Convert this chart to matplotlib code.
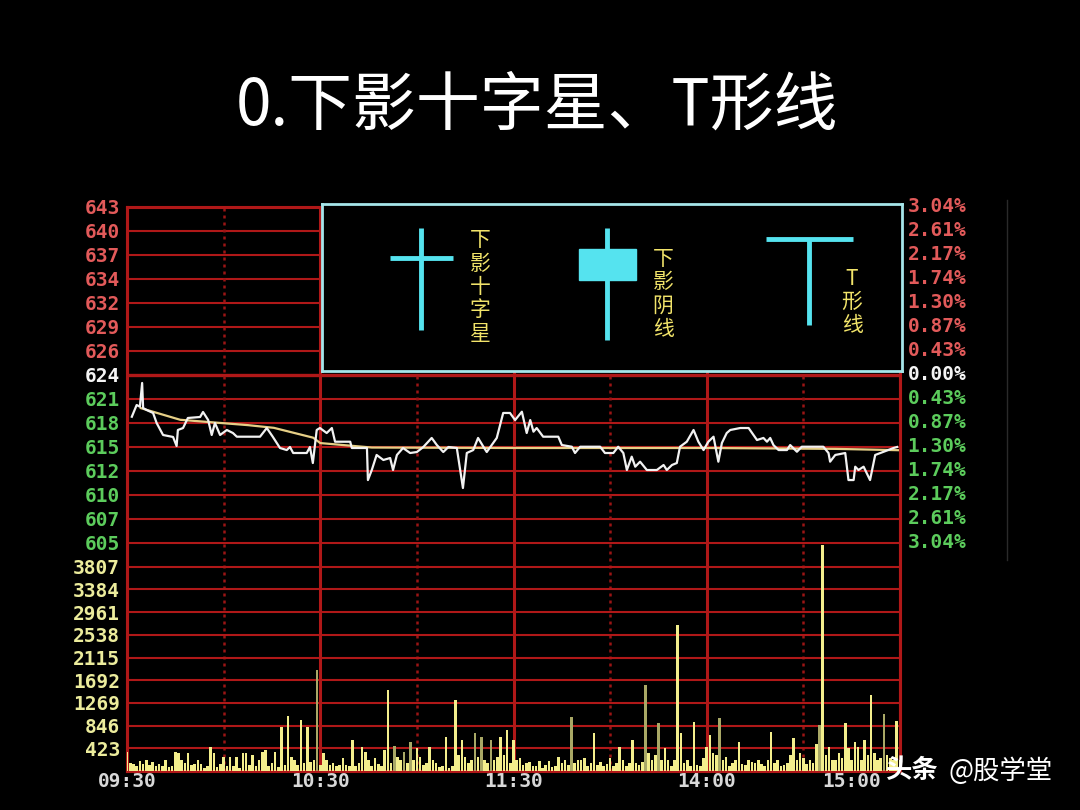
import matplotlib
matplotlib.use('Agg')
import matplotlib.pyplot as plt
import matplotlib.transforms as mtransforms
from matplotlib.patches import Rectangle
from matplotlib.lines import Line2D

plt.rcParams['font.family'] = ['Noto Sans CJK SC', 'DejaVu Sans']

# price axis (left) and change (right)
base_price = 624.0
price_step = 2.68
price_labels = ['643', '640', '637', '634', '632', '629', '626', '624',
                '621', '618', '615', '612', '610', '607', '605']
pct_labels = ['3.04%', '2.61%', '2.17%', '1.74%', '1.30%', '0.87%', '0.43%', '0.00%',
              '0.43%', '0.87%', '1.30%', '1.74%', '2.17%', '2.61%', '3.04%']
vol_step = 423
vol_labels = ['3807', '3384', '2961', '2538', '2115', '1692', '1269', '846', '423']
time_ticks = [0, 60, 120, 180, 240]
time_labels = ['09:30', '10:30', '11:30', '14:00', '15:00']

# intraday price, (minute, price)
price_min = [1.5, 3.0, 4.0, 4.7, 5.0, 6.1, 8.1, 9.2, 11.2, 14.3, 15.4, 15.8, 17.4, 18.9,
             22.7, 23.6, 25.2, 26.3, 27.3, 28.9, 31.0, 32.9, 34.1, 41.3, 43.4, 45.3,
             47.5, 49.6, 50.6, 51.6, 55.8, 56.8, 57.7, 58.9, 59.9, 62.0, 63.6, 64.6,
             69.3, 69.8, 74.5, 74.8, 76.0, 77.5, 79.6, 81.7, 82.6, 83.8, 85.7, 87.9,
             90.0, 92.0, 94.6, 96.2, 98.2, 99.8, 102.4, 103.9, 104.3, 105.5, 107.5,
             109.0, 110.7, 111.7, 114.8, 116.8, 118.9, 120.5, 122.6, 124.1, 125.2,
             126.2, 127.2, 129.2, 133.9, 135.0, 138.1, 139.1, 140.7, 146.9, 148.4,
             151.0, 152.5, 154.1, 155.2, 156.7, 157.8, 159.3, 161.4, 164.5, 166.6,
             167.6, 169.2, 170.7, 171.7, 173.8, 175.9, 177.4, 179.0, 180.5, 182.1,
             183.6, 184.7, 186.2, 187.3, 190.4, 193.0, 195.6, 197.6, 198.7, 199.7,
             200.7, 202.3, 204.9, 205.9, 208.0, 209.5, 216.2, 217.8, 218.3, 219.9,
             223.0, 224.0, 225.6, 226.1, 227.1, 228.7, 230.7, 232.3, 234.9, 238.0, 239.1]
price_val = [619.34, 620.65, 620.46, 623.11, 620.31, 620.09, 619.76, 618.64, 617.30,
             617.08, 616.07, 617.86, 618.08, 619.20, 619.31, 619.87, 618.97, 617.30,
             618.64, 617.30, 617.86, 617.52, 617.11, 617.11, 618.08, 617.08, 615.85,
             615.62, 615.96, 615.29, 615.29, 615.96, 614.17, 617.86, 618.08, 617.52,
             618.08, 616.55, 616.55, 615.85, 615.85, 612.27, 613.39, 615.07, 614.51,
             614.73, 613.39, 615.07, 615.85, 615.29, 615.40, 615.96, 616.97, 616.18,
             615.40, 615.96, 615.85, 612.27, 611.38, 615.29, 615.62, 616.97, 615.96,
             615.40, 616.97, 619.76, 619.76, 618.97, 619.90, 617.52, 618.97, 617.67,
             618.08, 617.11, 617.11, 616.18, 615.99, 615.29, 615.99, 615.99, 615.29,
             615.29, 615.99, 615.29, 613.39, 614.88, 613.76, 614.32, 613.39, 613.39,
             613.95, 613.39, 613.95, 614.17, 615.99, 616.55, 617.86, 616.55, 615.62,
             616.55, 617.11, 614.32, 616.41, 617.52, 617.86, 618.08, 618.08, 616.74,
             616.97, 616.55, 616.97, 616.18, 615.62, 615.62, 616.18, 615.43, 615.99,
             615.99, 615.29, 614.32, 615.07, 615.29, 612.27, 612.27, 613.76, 613.39,
             613.76, 612.27, 615.07, 615.43, 615.85, 615.96]

# average price line
avg_min = [4.3, 16.5, 37.6, 45.6, 57.8, 60.0, 76.0, 120.0, 180.0, 220.0, 240.0]
avg_val = [620.3, 619.0, 618.4, 618.1, 617.0, 616.4, 615.9, 615.85, 615.85, 615.75, 615.6]

# volume per minute, 0..240
volume = [360, 150, 130, 100, 190, 130, 200, 120, 170, 90,
          130, 100, 200, 80, 100, 360, 330, 200, 150, 340,
          110, 130, 200, 130, 60, 90, 450, 330, 80, 130,
          270, 100, 270, 90, 270, 60, 330, 330, 120, 300,
          90, 200, 360, 390, 100, 150, 360, 80, 825, 120,
          1025, 260, 200, 120, 950, 140, 825, 160, 200, 1880,
          120, 330, 200, 110, 150, 90, 120, 240, 110, 100,
          578, 90, 150, 450, 360, 200, 90, 240, 130, 100,
          390, 1510, 150, 470, 260, 200, 360, 150, 545, 200,
          430, 260, 120, 150, 450, 200, 150, 80, 90, 640,
          60, 100, 1320, 300, 578, 260, 150, 200, 705, 260,
          640, 200, 150, 578, 200, 260, 640, 300, 765, 150,
          578, 200, 240, 120, 150, 170, 90, 100, 190, 60,
          120, 190, 80, 100, 260, 150, 200, 120, 1010, 150,
          200, 200, 240, 100, 150, 700, 120, 175, 90, 130,
          240, 100, 150, 450, 200, 90, 150, 578, 150, 120,
          175, 1600, 330, 200, 300, 890, 200, 430, 200, 100,
          200, 2720, 705, 150, 200, 90, 920, 120, 100, 250,
          450, 670, 330, 300, 980, 200, 270, 100, 150, 200,
          545, 130, 120, 200, 170, 150, 200, 130, 100, 200,
          730, 150, 200, 100, 120, 150, 300, 610, 200, 330,
          250, 130, 200, 150, 500, 855, 4210, 300, 450, 200,
          200, 330, 250, 900, 430, 200, 545, 450, 200, 570,
          300, 1415, 330, 200, 250, 1055, 300, 250, 200, 930,
          200]
# minutes whose bars are drawn in the darker (olive) shade
down_minutes = [59, 83, 86, 88, 108, 110, 113, 138, 161, 165, 184, 215, 235]

# inset candle examples
candle_names = ['下\n影\n十\n字\n星', '下\n影\n阴\n线', 'T\n形\n线']
candle_x = [99, 285, 487]
candle_open = [113, 122, 132]
candle_close = [113, 91, 132]
candle_high = [143, 143, 132]
candle_low = [41, 31, 46]

RED = '#b01818'
CYAN = '#55e3ef'

fig = plt.figure(figsize=(10.8, 8.1), dpi=100, facecolor='black')
rect = [127 / 1080, 1 - 771 / 810, 773 / 1080, 564 / 810]
ax = fig.add_axes(rect)
ax.set_facecolor('black')
axv = ax.twinx()
axv.yaxis.tick_left()

ax.set_xlim(0, 240)
ax.set_ylim(base_price - 396 * price_step / 24, base_price + 168 * price_step / 24)
axv.set_ylim(0, 564 * vol_step / 22.7)

# grid
price_ticks = [base_price + price_step * (7 - i) for i in range(len(price_labels))]
vol_ticks = [vol_step * (len(vol_labels) - i) for i in range(len(vol_labels))]
for p in price_ticks:
    lw = 2.4 if p == base_price else 1.5
    ax.axhline(p, color=RED, lw=lw, zorder=1)
for v in vol_ticks:
    axv.axhline(v, color=RED, lw=1.5, zorder=1)
for t in [0, 60, 120, 180, 240]:
    ax.axvline(t, color=RED, lw=2.2, zorder=1)
for t in [30, 90, 150, 210]:
    ax.axvline(t, color='#9a1515', lw=1.8, ls=(0, (1.2, 1.6)), zorder=1)
for a in (ax, axv):
    for s in a.spines.values():
        s.set_color(RED)
        s.set_linewidth(2.2)

# volume bars
colors = ['#a9a866' if m in down_minutes else '#f3ee8c' for m in range(len(volume))]
axv.bar(range(len(volume)), volume, width=0.8, color=colors, zorder=3)

# price and average
ax.plot(avg_min, avg_val, color='#e6cf86', lw=1.6, zorder=4)
ax.plot(price_min, price_val, color='#f2f2f2', lw=1.6, zorder=5)

mono = dict(family='DejaVu Sans Mono', fontweight='bold', fontsize=14)

ax.set_yticks(price_ticks)
ax.set_yticklabels(price_labels, **mono)
for i, lab in enumerate(ax.get_yticklabels()):
    lab.set_color('#e25a5a' if i < 7 else ('#f4f4f4' if i == 7 else '#5ccc5c'))
axv.set_yticks(vol_ticks)
axv.set_yticklabels(vol_labels, **mono)
for lab in axv.get_yticklabels():
    lab.set_color('#ecec9c')
ax.tick_params(axis='y', length=0, pad=5)
axv.tick_params(axis='y', length=0, pad=5)

for i, (p, s) in enumerate(zip(price_ticks, pct_labels)):
    c = '#e25a5a' if i < 7 else ('#f4f4f4' if i == 7 else '#5ccc5c')
    ax.text(1.01, p, s, transform=ax.get_yaxis_transform(), ha='left', va='center',
            color=c, **mono)

ax.set_xticks(time_ticks)
ax.set_xticklabels(time_labels, color='#d8d8d8', **mono)
ax.tick_params(axis='x', length=0, pad=1)
# last time label sits left of the watermark
last = ax.get_xticklabels()[-1]
last.set_ha('right')
last.set_transform(last.get_transform() + mtransforms.ScaledTranslation(-19 / 100, 0, fig.dpi_scale_trans))

# inset with candle examples
axi = fig.add_axes([322 / 1080, 1 - 371 / 810, 580 / 1080, 167 / 810], zorder=10)
axi.set_facecolor('black')
axi.set_xlim(0, 580)
axi.set_ylim(0, 167)
axi.set_xticks([])
axi.set_yticks([])
for s in axi.spines.values():
    s.set_color('#a6e6ea')
    s.set_linewidth(2)
widths = [63, 57, 87]
for x, o, c, h, l, w in zip(candle_x, candle_open, candle_close, candle_high, candle_low, widths):
    axi.vlines(x, l, h, color=CYAN, lw=3.5)
    if o == c:
        axi.hlines(o, x - w / 2, x + w / 2, color=CYAN, lw=3.5)
    else:
        axi.add_patch(Rectangle((x - w / 2, min(o, c)), w, abs(o - c), color=CYAN))
label_pos = [(158, 84), (341, 77), (530, 69)]
for name, (lx, ly) in zip(candle_names, label_pos):
    axi.text(lx, ly, name, color='#f2e46a', fontsize=15, ha='center', va='center',
             linespacing=1.08)

# title and watermark
fig.text(0.497, 0.869, '0.下影十字星、T形线', color='white', fontsize=46,
         fontweight='light', ha='center', va='center')
fig.text(885 / 1080, 1 - 771 / 810, '头条', color='white', fontsize=19,
         fontweight='bold', ha='left', va='center')
fig.text(948 / 1080, 1 - 771 / 810, '@股学堂', color='white', fontsize=19,
         ha='left', va='center')
fig.add_artist(Line2D([1007 / 1080, 1007 / 1080], [1 - 560 / 810, 1 - 200 / 810],
                      color='#2a2a2a', lw=1))

fig.savefig('out.png', dpi=100, facecolor='black')
